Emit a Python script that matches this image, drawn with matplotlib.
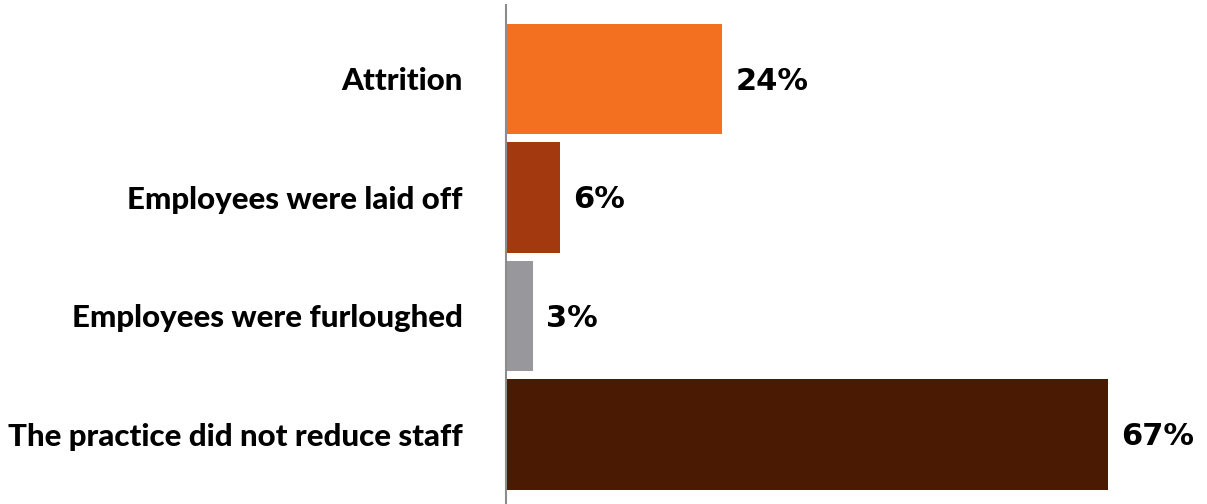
import matplotlib
matplotlib.use("Agg")
import matplotlib.pyplot as plt

categories = ["Attrition", "Employees were laid off", "Employees were furloughed",
              "The practice did not reduce staff"]
values = [24, 6, 3, 67]
colours = ["#F37021", "#A33A0F", "#98989C", "#4A1A02"]

fig = plt.figure(figsize=(12.07, 5.04), dpi=100)
ax = fig.add_axes([506 / 1207, 0, 1 - 506 / 1207, 499 / 504])

ypos = list(range(len(categories)))
ax.barh(ypos, values, height=0.93, color=colours)
ax.set_xlim(0, 78)
ax.set_ylim(3.587, -0.624)

for y, v in zip(ypos, values):
    ax.text(v + 1.5, y + 0.02, f"{v}%", va="center", ha="left",
            fontsize=22, fontweight="bold", family="DejaVu Sans", color="black")

ax.set_yticks(ypos)
ax.set_yticklabels(categories, fontsize=22.5, fontweight=900, family="Lato")
ax.tick_params(axis="y", length=0, pad=31)
ax.set_xticks([])

for s in ["top", "right", "bottom"]:
    ax.spines[s].set_visible(False)
ax.spines["left"].set_color("#8C8C8C")
ax.spines["left"].set_linewidth(1.5)

fig.savefig("out.png", dpi=100)
